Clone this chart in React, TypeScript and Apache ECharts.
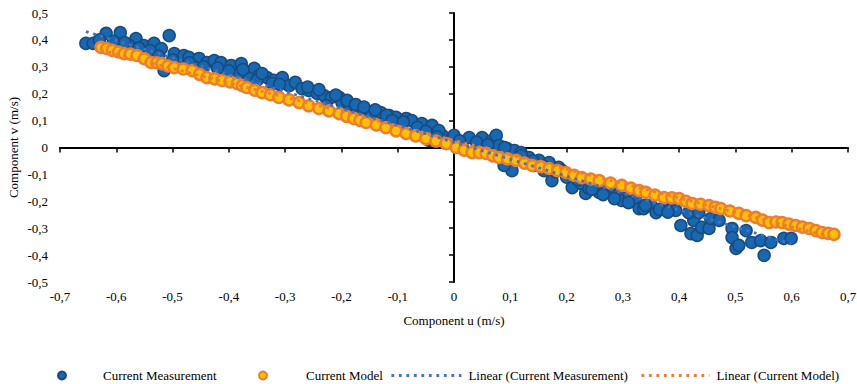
import React, { useEffect, useRef } from "react";
import * as echarts from "echarts";

const measurementU = [
  -0.654, -0.641, -0.618, -0.593, -0.565, -0.577, -0.551, -0.533, -0.506, -0.52, -0.497, -0.48, -0.471, -0.515, -0.453,
  -0.439, -0.426, -0.414, -0.396, -0.378, -0.368, -0.355, -0.346, -0.332, -0.488, -0.462, -0.409, -0.385, -0.364,
  -0.63, -0.605, -0.585, -0.56, -0.54, -0.525, -0.5, -0.47, -0.445, -0.42, -0.4, -0.375, -0.35, -0.32,
  -0.341, -0.323, -0.305, -0.293, -0.282, -0.27, -0.258, -0.243, -0.231, -0.218, -0.204, -0.227, -0.199, -0.186, -0.169,
  -0.156, -0.146, -0.13, -0.115, -0.103, -0.085, -0.075, -0.057, -0.039, -0.067, -0.044, -0.021, -0.004, -0.014, -0.027,
  -0.098, -0.124, -0.178,
  -0.31, -0.26, -0.24, -0.21, -0.19, -0.175, -0.16, -0.14, -0.12, -0.11, -0.09, -0.065, -0.05, -0.03,
  0.0, 0.014, 0.027, 0.05, 0.067, 0.075, 0.08, 0.094, 0.107, 0.119, 0.103, 0.089, 0.133, 0.151, 0.169, 0.186, 0.192,
  0.174, 0.21, 0.226, 0.234, 0.24, 0.258, 0.27, 0.288, 0.298, 0.298, 0.311, 0.323, 0.16, 0.142, 0.249, 0.279,
  0.01, 0.04, 0.06, 0.09, 0.12, 0.14, 0.16, 0.18, 0.2, 0.22, 0.245, 0.265, 0.285, 0.31,
  0.329, 0.337, 0.35, 0.359, 0.377, 0.387, 0.394, 0.403, 0.421, 0.432, 0.426, 0.44, 0.453, 0.456, 0.471, 0.494, 0.494,
  0.501, 0.506, 0.519, 0.529, 0.545, 0.551, 0.563, 0.586, 0.599, 0.417, 0.435,
  0.34, 0.365, 0.38,
];
const measurementV = [
  0.387, 0.387, 0.424, 0.427, 0.405, 0.379, 0.379, 0.387, 0.416, 0.368, 0.349, 0.342, 0.335, 0.286, 0.331,
  0.316, 0.323, 0.316, 0.305, 0.312, 0.279, 0.294, 0.268, 0.26, 0.305, 0.301, 0.279, 0.268, 0.256,
  0.4, 0.395, 0.39, 0.37, 0.36, 0.34, 0.325, 0.315, 0.3, 0.295, 0.285, 0.29, 0.25, 0.25,
  0.275, 0.238, 0.26, 0.23, 0.242, 0.219, 0.212, 0.201, 0.193, 0.186, 0.186, 0.156, 0.167, 0.16, 0.145,
  0.138, 0.13, 0.13, 0.119, 0.112, 0.108, 0.1, 0.089, 0.082, 0.045, 0.026, 0.045, 0.033, 0.015, 0.063,
  0.082, 0.093, 0.119,
  0.235, 0.225, 0.215, 0.195, 0.175, 0.16, 0.15, 0.14, 0.12, 0.1, 0.095, 0.075, 0.06, 0.04,
  0.045, 0.007, 0.037, 0.037, 0.026, 0.045, 0.007, -0.004, -0.011, -0.019, -0.086, -0.067, -0.037, -0.048, -0.056, -0.074, -0.086,
  -0.123, -0.149, -0.134, -0.171, -0.152, -0.167, -0.16, -0.178, -0.186, -0.197, -0.19, -0.197, -0.086, -0.067, -0.141, -0.141,
  0.025, 0.02, 0.01, 0.0, -0.03, -0.05, -0.07, -0.09, -0.11, -0.12, -0.155, -0.175, -0.19, -0.205,
  -0.227, -0.227, -0.216, -0.242, -0.227, -0.227, -0.234, -0.29, -0.32, -0.327, -0.271, -0.297, -0.301, -0.264, -0.271, -0.301, -0.335,
  -0.375, -0.364, -0.309, -0.353, -0.346, -0.401, -0.353, -0.338, -0.338, -0.242, -0.242,
  -0.215, -0.23, -0.24,
];

const modelU = [
  -0.627, -0.617, -0.607, -0.596, -0.586, -0.575, -0.563, -0.55, -0.538, -0.528, -0.519, -0.508, -0.497, -0.481, -0.465,
  -0.452, -0.439, -0.425, -0.412, -0.398, -0.385, -0.376, -0.368, -0.354, -0.341, -0.326, -0.311, -0.293, -0.275, -0.258,
  -0.24, -0.222, -0.204, -0.191, -0.178, -0.167, -0.156, -0.138, -0.121, -0.103, -0.085, -0.068, -0.05, -0.032, -0.014,
  0.004, 0.018, 0.032, 0.045, 0.057, 0.069, 0.08, 0.095, 0.11, 0.125, 0.139, 0.154, 0.169, 0.184, 0.199,
  0.213, 0.227, 0.243, 0.258, 0.278, 0.298, 0.314, 0.329, 0.341, 0.357, 0.373, 0.387, 0.4, 0.412, 0.423,
  0.438, 0.453, 0.464, 0.474, 0.49, 0.506, 0.519, 0.536, 0.548, 0.56, 0.572, 0.583, 0.595, 0.607, 0.619,
  0.631, 0.643, 0.654, 0.665, 0.675,
];
const modelV = [
  0.372, 0.368, 0.361, 0.355, 0.349, 0.347, 0.342, 0.33, 0.316, 0.315, 0.312, 0.303, 0.297, 0.292, 0.286,
  0.272, 0.26, 0.255, 0.249, 0.244, 0.238, 0.23, 0.223, 0.213, 0.204, 0.196, 0.186, 0.177, 0.167, 0.155,
  0.145, 0.136, 0.126, 0.116, 0.108, 0.101, 0.093, 0.084, 0.074, 0.062, 0.052, 0.043, 0.033, 0.024, 0.015,
  0.0, -0.01, -0.019, -0.019, -0.022, -0.031, -0.037, -0.042, -0.048, -0.058, -0.067, -0.071, -0.078, -0.086, -0.093,
  -0.103, -0.112, -0.117, -0.123, -0.132, -0.141, -0.151, -0.16, -0.167, -0.177, -0.186, -0.187, -0.19, -0.2, -0.208,
  -0.211, -0.216, -0.222, -0.227, -0.236, -0.245, -0.253, -0.26, -0.27, -0.279, -0.277, -0.279, -0.285, -0.29, -0.296,
  -0.301, -0.309, -0.316, -0.319, -0.323,
];

// Linear trend lines, end points
const measurementTrendU = [-0.654, 0.599];
const measurementTrendV = [0.431, -0.358];
const modelTrendU = [-0.627, 0.675];
const modelTrendV = [0.362, -0.335];

const seriesNames = [
  "Current Measurement",
  "Current Model",
  "Linear (Current Measurement)",
  "Linear (Current Model)",
];

const FONT = "'Liberation Serif', 'Times New Roman', serif";

function zip(u: number[], v: number[]) {
  return u.map((x, i) => [x, v[i]]);
}

const fmt = (val: number) => {
  const r = Math.round(val * 10) / 10;
  if (r === 0) return "0";
  return r.toFixed(1).replace(".", ",");
};

const textStyle = { fontFamily: FONT, fontSize: 13, color: "#000" };

export default function App() {
  const ref = useRef<HTMLDivElement>(null);
  useEffect(() => {
    if (!ref.current) return;
    const chart = echarts.init(ref.current, undefined, { renderer: "svg" });
    const xRange = { type: "value" as const, min: -0.7, max: 0.7, interval: 0.1 };
    const yRange = { type: "value" as const, min: -0.5, max: 0.5, interval: 0.1 };
    const labelAxis = {
      axisLine: { show: false, onZero: false },
      axisTick: { show: false },
      splitLine: { show: false },
      nameLocation: "middle" as const,
      nameMoveOverlap: false,
      nameTextStyle: textStyle,
    };
    const lineAxis = {
      axisLine: { show: true, onZero: true, lineStyle: { color: "#000", width: 2 } },
      axisTick: { show: true, inside: true, length: 5, lineStyle: { color: "#000", width: 1.5 } },
      axisLabel: { show: false },
      splitLine: { show: false },
    };
    const dotted = [2.8, 4.7];
    const legendBase = {
      top: 369,
      padding: 0,
      itemHeight: 8,
      textStyle,
    };
    chart.setOption({
      animation: false,
      backgroundColor: "#fff",
      grid: {
        left: 60,
        right: 9,
        top: 13,
        bottom: 102,
        containLabel: false,
        outerBoundsMode: "none",
      },
      xAxis: [
        {
          ...xRange,
          ...labelAxis,
          position: "bottom",
          name: "Component u (m/s)",
          nameGap: 32,
          axisLabel: { ...textStyle, margin: 8, formatter: fmt },
        },
        { ...xRange, ...lineAxis, position: "top" },
      ],
      yAxis: [
        {
          ...yRange,
          ...labelAxis,
          position: "left",
          name: "Component v (m/s)",
          nameGap: 40,
          axisLabel: { ...textStyle, margin: 12, formatter: fmt },
        },
        { ...yRange, ...lineAxis, position: "right" },
      ],
      legend: [
        {
          ...legendBase,
          left: 57,
          itemWidth: 8,
          data: [seriesNames[0]],
          textStyle: { ...textStyle, padding: [0, 0, 0, 32] },
        },
        {
          ...legendBase,
          left: 258,
          itemWidth: 8,
          data: [seriesNames[1]],
          textStyle: { ...textStyle, padding: [0, 0, 0, 34] },
        },
        {
          ...legendBase,
          left: 390,
          itemWidth: 70,
          lineStyle: { width: 2.8 },
          data: [{ name: seriesNames[2], itemStyle: { opacity: 0 } }],
          textStyle: { ...textStyle, padding: [0, 0, 0, 2] },
        },
        {
          ...legendBase,
          left: 640,
          itemWidth: 68,
          lineStyle: { width: 2.8 },
          data: [{ name: seriesNames[3], itemStyle: { opacity: 0 } }],
          textStyle: { ...textStyle, padding: [0, 0, 0, 2] },
        },
      ],
      series: [
        {
          name: seriesNames[0],
          type: "scatter",
          z: 2,
          data: zip(measurementU, measurementV),
          symbol: "circle",
          symbolSize: 12,
          itemStyle: { color: "#1668b3", borderColor: "#1a4a7c", borderWidth: 1.5, opacity: 1 },
        },
        {
          name: seriesNames[1],
          type: "scatter",
          z: 3,
          data: zip(modelU, modelV),
          symbol: "circle",
          symbolSize: 11,
          itemStyle: { color: "#ffc000", borderColor: "#ed7d31", borderWidth: 2.5, opacity: 1 },
        },
        {
          name: seriesNames[2],
          type: "line",
          z: 5,
          data: zip(measurementTrendU, measurementTrendV),
          symbol: "none",
          lineStyle: { color: "#4472c4", width: 2.8, type: dotted },
          itemStyle: { color: "#4472c4" },
        },
        {
          name: seriesNames[3],
          type: "line",
          z: 4,
          data: zip(modelTrendU, modelTrendV),
          symbol: "none",
          lineStyle: { color: "#ed7d31", width: 2.8, type: dotted },
          itemStyle: { color: "#ed7d31" },
        },
      ],
    });
    return () => chart.dispose();
  }, []);
  return (
    <div
      ref={ref}
      style={{ position: "fixed", left: 0, top: 0, width: 857, height: 384 }}
    />
  );
}
